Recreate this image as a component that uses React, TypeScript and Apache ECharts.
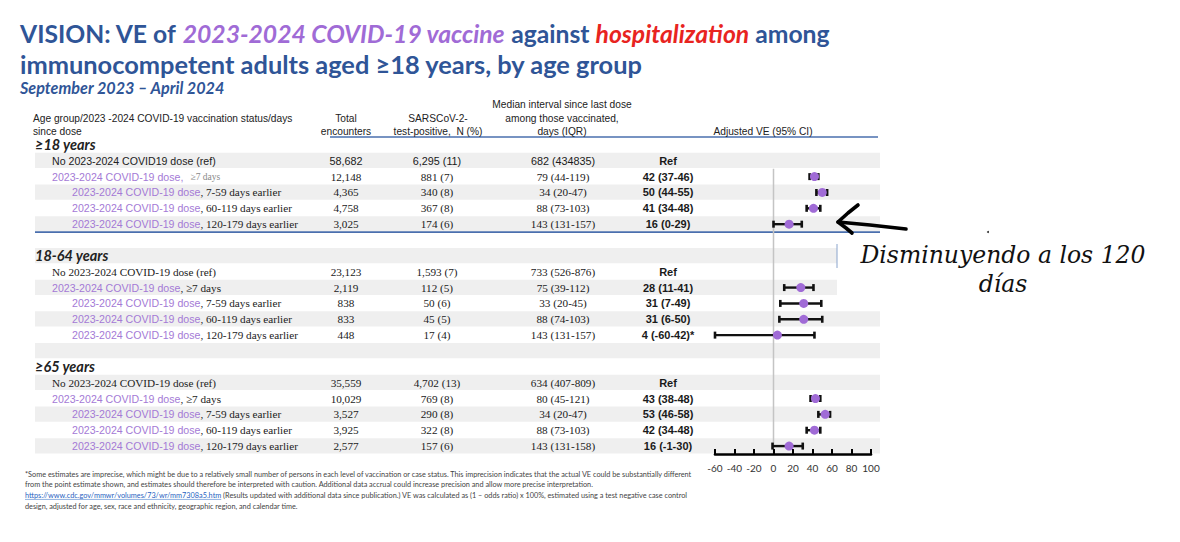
import React, { useEffect, useRef } from "react";
import * as echarts from "echarts";

// ---------- data ----------
const groupHeaders = ["≥18 years", "18-64 years", "≥65 years"];
const refLabels = [
  "No 2023-2024 COVID19 dose (ref)",
  "No 2023-2024 COVID-19 dose (ref)",
  "No 2023-2024 COVID-19 dose (ref)",
];
const doseName = "2023-2024 COVID-19 dose";
const doseSuffixes = ["≥7 days", "7-59 days earlier", "60-119 days earlier", "120-179 days earlier"];

const totalEncounters = [
  ["58,682", "12,148", "4,365", "4,758", "3,025"],
  ["23,123", "2,119", "838", "833", "448"],
  ["35,559", "10,029", "3,527", "3,925", "2,577"],
];
const testPositive = [
  ["6,295 (11)", "881 (7)", "340 (8)", "367 (8)", "174 (6)"],
  ["1,593 (7)", "112 (5)", "50 (6)", "45 (5)", "17 (4)"],
  ["4,702 (13)", "769 (8)", "290 (8)", "322 (8)", "157 (6)"],
];
const medianInterval = [
  ["682 (434835)", "79 (44-119)", "34 (20-47)", "88 (73-103)", "143 (131-157)"],
  ["733 (526-876)", "75 (39-112)", "33 (20-45)", "88 (74-103)", "143 (131-157)"],
  ["634 (407-809)", "80 (45-121)", "34 (20-47)", "88 (73-103)", "143 (131-158)"],
];
const veText = [
  ["Ref", "42 (37-46)", "50 (44-55)", "41 (34-48)", "16 (0-29)"],
  ["Ref", "28 (11-41)", "31 (7-49)", "31 (6-50)", "4 (-60-42)*"],
  ["Ref", "43 (38-48)", "53 (46-58)", "42 (34-48)", "16 (-1-30)"],
];
const veEst = [
  [42, 50, 41, 16],
  [28, 31, 31, 4],
  [43, 53, 42, 16],
];
const veLow = [
  [37, 44, 34, 0],
  [11, 7, 6, -60],
  [38, 46, 34, -1],
];
const veHigh = [
  [46, 55, 48, 29],
  [41, 49, 50, 42],
  [48, 58, 48, 30],
];

const footnoteLines = [
  "*Some estimates are imprecise, which might be due to a relatively small number of persons in each level of vaccination or case status. This imprecision indicates that the actual VE could be substantially different",
  "from the point estimate shown, and estimates should therefore be interpreted with caution. Additional data accrual could increase precision and allow more precise interpretation.",
  " (Results updated with additional data since publication.) VE was calculated as (1 – odds ratio) x 100%, estimated using a test negative case control",
  "design, adjusted for age, sex, race and ethnicity, geographic region, and calendar time.",
];
const footnoteLink = "https://www.cdc.gov/mmwr/volumes/73/wr/mm7308a5.htm";
const annotationText = "Disminuyendo a los 120\ndías";

// ---------- styling ----------
const SANS = '"Liberation Sans", Arial, sans-serif';
const SERIF = '"Liberation Serif", "Times New Roman", serif';
const LATO = 'Lato, "Open Sans", sans-serif';
const BLUE = "#2f5597";
const PURPLE = "#a06bd6";
const LABEL_PURPLE = "#a47ad6";
const RED = "#e8241f";
const STRIPE = "#efefef";

// table layout (pixel units along the hidden table axis)
const TABLE_LEFT = 35;
const TABLE_RIGHT = 880;
const COL_GROUP = 35;
const COL_L1 = 52;
const COL_L2 = 72;
const COL_TOTAL = 346;
const COL_POS = 437;
const COL_MED = 563;
const COL_VE = 668;

type RowMeta = { row: number; kind: "header" | "ref" | "dose" | "blank"; g: number; j: number };
const rowsMeta: RowMeta[] = [];
groupHeaders.forEach((_, g) => {
  const base = g * 7;
  rowsMeta.push({ row: base, kind: "header", g, j: -1 });
  rowsMeta.push({ row: base + 1, kind: "ref", g, j: 0 });
  doseSuffixes.forEach((__, k) => rowsMeta.push({ row: base + 2 + k, kind: "dose", g, j: k + 1 }));
  if (g < groupHeaders.length - 1) rowsMeta.push({ row: base + 6, kind: "blank", g, j: -1 });
});

const ciData: number[][] = [];
const pointData: number[][] = [];
veEst.forEach((arr, g) =>
  arr.forEach((v, k) => {
    const row = g * 7 + 2 + k;
    ciData.push([v, veLow[g][k], veHigh[g][k], row]);
    pointData.push([v, row]);
  })
);

function measure(text: string, font: string) {
  const c = document.createElement("canvas").getContext("2d");
  if (!c) return text.length * 3;
  c.font = font;
  return c.measureText(text).width;
}

export default function App() {
  const ref = useRef<HTMLDivElement>(null);
  useEffect(() => {
    if (!ref.current) return;
    const chart = echarts.init(ref.current, undefined, { renderer: "svg" });

    const renderTable = (params: any, api: any) => {
      const r = rowsMeta[params.dataIndex];
      const [xL, yc] = api.coord([TABLE_LEFT, r.row]);
      const [xR] = api.coord([TABLE_RIGHT, r.row]);
      const h = api.size([0, 1])[1];
      const X = (v: number) => api.coord([v, r.row])[0];
      const children: any[] = [];
      if (r.row % 2 === 1) {
        children.push({
          type: "rect",
          shape: { x: xL, y: yc - h / 2, width: xR - xL, height: h - 0.6 },
          style: { fill: STRIPE },
        });
      }
      if (r.row === 0) {
        children.push({
          type: "line",
          shape: { x1: X(330), y1: yc - h / 2, x2: X(878), y2: yc - h / 2 },
          style: { stroke: "#4a6fae", lineWidth: 1.6 },
        });
      }
      if (r.kind === "header") {
        children.push({
          type: "text",
          x: X(COL_GROUP),
          y: yc,
          style: {
            text: groupHeaders[r.g],
            fontFamily: LATO,
            fontSize: 14.5,
            fontWeight: "bold",
            fontStyle: "italic",
            fill: "#222",
            align: "left",
            verticalAlign: "middle",
          },
        });
      }
      if (r.kind === "ref" || r.kind === "dose") {
        const isSansRow = r.g === 0 && r.j === 0;
        const valFont = isSansRow ? SANS : SERIF;
        const valSize = isSansRow ? 10.8 : 11.2;
        let labelText = "";
        if (r.kind === "ref") {
          labelText = `{${isSansRow ? "k" : "s"}|${refLabels[r.g]}}`;
        } else if (r.j === 1 && r.g === 0) {
          labelText = `{p|${doseName},}{g|   ${doseSuffixes[0]}}`;
        } else {
          labelText = `{p|${doseName}}{s|, ${doseSuffixes[r.j - 1]}}`;
        }
        children.push({
          type: "text",
          x: X(r.kind === "ref" || r.j === 1 ? COL_L1 : COL_L2),
          y: yc,
          style: {
            text: labelText,
            align: "left",
            verticalAlign: "middle",
            rich: {
              k: { fontFamily: SANS, fontSize: 10.6, fill: "#222" },
              s: { fontFamily: SERIF, fontSize: 11.2, fill: "#222" },
              p: { fontFamily: SANS, fontSize: 10.6, fill: LABEL_PURPLE },
              g: { fontFamily: SERIF, fontSize: 9.5, fill: "#888" },
            },
          },
        });
        const cols: [number, string, string, number, string][] = [
          [COL_TOTAL, totalEncounters[r.g][r.j], valFont, valSize, "normal"],
          [COL_POS, testPositive[r.g][r.j], valFont, valSize, "normal"],
          [COL_MED, medianInterval[r.g][r.j], valFont, valSize, "normal"],
          [COL_VE, veText[r.g][r.j], SANS, 11, "bold"],
        ];
        cols.forEach(([cx, t, f, fs, fw]) =>
          children.push({
            type: "text",
            x: X(cx),
            y: yc,
            style: {
              text: t,
              fontFamily: f,
              fontSize: fs,
              fontWeight: fw,
              fill: "#1a1a1a",
              align: "center",
              verticalAlign: "middle",
            },
          })
        );
      }
      if (r.row === 5) {
        children.push({
          type: "line",
          shape: { x1: xL, y1: yc + h / 2, x2: xR, y2: yc + h / 2 },
          style: { stroke: "#4a6fae", lineWidth: 1.6 },
        });
      }
      return { type: "group", children };
    };

    const renderCI = (params: any, api: any) => {
      const lo = api.coord([api.value(1), api.value(3)]);
      const hi = api.coord([api.value(2), api.value(3)]);
      const cap = 3.5;
      const st = { stroke: "#111", lineWidth: 2.4 };
      return {
        type: "group",
        children: [
          { type: "line", shape: { x1: lo[0], y1: lo[1], x2: hi[0], y2: hi[1] }, style: st },
          { type: "line", shape: { x1: lo[0], y1: lo[1] - cap, x2: lo[0], y2: lo[1] + cap }, style: { stroke: "#111", lineWidth: 2.6 } },
          { type: "line", shape: { x1: hi[0], y1: hi[1] - cap, x2: hi[0], y2: hi[1] + cap }, style: { stroke: "#111", lineWidth: 2.6 } },
        ],
      };
    };

    const hdr = (x: number, y: number, text: string, align = "center") => ({
      type: "text",
      x,
      y,
      z: 100,
      style: { text, fontFamily: SANS, fontSize: 10.2, fill: "#222", align, verticalAlign: "middle" },
    });

    const footFont = `7.3px ${LATO}`;
    const linkW = measure(footnoteLink, footFont);

    const graphic: any[] = [
      {
        type: "text",
        x: 20,
        y: 33,
        z: 100,
        style: {
          text: "{b|VISION: VE of }{p|2023-2024 COVID-19 vaccine}{b| against }{r|hospitalization}{b| among}",
          verticalAlign: "middle",
          align: "left",
          rich: {
            b: { fontFamily: LATO, fontSize: 24.7, fontWeight: "bold", fill: BLUE },
            p: { fontFamily: LATO, fontSize: 24.7, fontWeight: "bold", fontStyle: "italic", fill: PURPLE },
            r: { fontFamily: LATO, fontSize: 24.7, fontWeight: "bold", fontStyle: "italic", fill: RED },
          },
        },
      },
      {
        type: "text",
        x: 20,
        y: 64,
        z: 100,
        style: {
          text: "immunocompetent adults aged ≥18 years, by age group",
          fontFamily: LATO,
          fontSize: 25.4,
          fontWeight: "bold",
          fill: BLUE,
          verticalAlign: "middle",
        },
      },
      {
        type: "text",
        x: 20,
        y: 87,
        z: 100,
        style: {
          text: "September 2023 – April 2024",
          fontFamily: LATO,
          fontSize: 16.2,
          fontWeight: "bold",
          fontStyle: "italic",
          fill: BLUE,
          verticalAlign: "middle",
        },
      },
      hdr(33, 118, "Age group/2023 -2024 COVID-19 vaccination status/days", "left"),
      hdr(33, 131, "since dose", "left"),
      hdr(COL_TOTAL, 118, "Total"),
      hdr(COL_TOTAL, 131, "encounters"),
      hdr(438, 118, "SARSCoV-2-"),
      hdr(438, 131, "test-positive,  N (%)"),
      hdr(562, 104, "Median interval since last dose"),
      hdr(562, 118, "among those vaccinated,"),
      hdr(562, 131, "days (IQR)"),
      hdr(763, 131, "Adjusted VE (95% CI)"),
      // annotation box
      { type: "rect", z: 100, shape: { x: 837, y: 238, width: 343, height: 62 }, style: { fill: "#fff" } },
      { type: "line", z: 101, shape: { x1: 837, y1: 244, x2: 837, y2: 268 }, style: { stroke: "#8aa4cc", lineWidth: 1 } },
      {
        type: "text",
        x: 1003,
        y: 269,
        z: 102,
        style: {
          text: annotationText,
          fontFamily: '"DejaVu Serif", serif',
          fontStyle: "italic",
          fontSize: 23.5,
          lineHeight: 29,
          fill: "#111",
          align: "center",
          verticalAlign: "middle",
        },
      },
      // arrow
      {
        type: "polyline",
        z: 103,
        shape: { points: [[838, 222], [870, 225], [906, 229]] },
        style: { stroke: "#000", lineWidth: 3.6, lineCap: "round", lineJoin: "round", fill: "none" },
      },
      {
        type: "polyline",
        z: 103,
        shape: { points: [[858, 205], [848, 213], [838, 222], [846, 228], [852, 233]] },
        style: { stroke: "#000", lineWidth: 3.6, lineCap: "round", lineJoin: "round", fill: "none" },
      },
      { type: "circle", z: 103, shape: { cx: 988, cy: 232, r: 1 }, style: { fill: "#333" } },
      // footnotes
      ...footnoteLines.map((t, i) => ({
        type: "text",
        x: i === 2 ? 25 + linkW : 25,
        y: 474 + i * 10.8,
        z: 100,
        style: { text: t, font: footFont, fill: "#444", verticalAlign: "middle" },
      })),
      {
        type: "text",
        x: 25,
        y: 474 + 2 * 10.8,
        z: 100,
        style: { text: footnoteLink, font: footFont, fill: "#1f5fbf", verticalAlign: "middle" },
      },
      {
        type: "line",
        z: 100,
        shape: { x1: 25, y1: 474 + 2 * 10.8 + 3.8, x2: 25 + linkW, y2: 474 + 2 * 10.8 + 3.8 },
        style: { stroke: "#1f5fbf", lineWidth: 0.5 },
      },
    ];

    const option: any = {
      animation: false,
      backgroundColor: "#fff",
      grid: [
        { left: 715, top: 137, width: 156, height: 317, outerBoundsMode: "none" },
        { left: 0, top: 137, width: 1180, height: 317, outerBoundsMode: "none" },
      ],
      xAxis: [
        {
          type: "value",
          gridIndex: 0,
          position: "bottom",
          z: 20,
          min: -60,
          max: 100,
          interval: 20,
          axisLine: { show: true, onZero: false, lineStyle: { color: "#000", width: 2.6 } },
          axisTick: { show: true, inside: true, length: 5, lineStyle: { color: "#000", width: 2 } },
          axisLabel: { color: "#333", fontSize: 10, fontFamily: LATO, margin: 9 },
          splitLine: { show: false },
        },
        { type: "value", gridIndex: 1, min: 0, max: 1180, show: false },
      ],
      yAxis: [
        { type: "value", gridIndex: 0, min: -0.5, max: 19.5, inverse: true, show: false },
        { type: "value", gridIndex: 1, min: -0.5, max: 19.5, inverse: true, show: false },
      ],
      series: [
        {
          type: "custom",
          xAxisIndex: 1,
          yAxisIndex: 1,
          z: 1,
          renderItem: renderTable,
          data: rowsMeta.map((r) => [TABLE_LEFT, r.row]),
          silent: true,
        },
        {
          type: "line",
          xAxisIndex: 0,
          yAxisIndex: 0,
          z: 2,
          data: [
            [0, 1.5],
            [0, 19.5],
          ],
          symbol: "none",
          lineStyle: { color: "#c4c4c4", width: 1.5 },
          silent: true,
        },
        {
          type: "custom",
          xAxisIndex: 0,
          yAxisIndex: 0,
          z: 3,
          renderItem: renderCI,
          data: ciData,
          silent: true,
        },
        {
          type: "scatter",
          xAxisIndex: 0,
          yAxisIndex: 0,
          z: 4,
          data: pointData,
          symbol: "circle",
          symbolSize: 9,
          itemStyle: { color: PURPLE, opacity: 1 },
          silent: true,
        },
      ],
      graphic,
    };
    chart.setOption(option);
    return () => chart.dispose();
  }, []);
  return <div ref={ref} style={{ position: "absolute", left: 0, top: 0, width: 1180, height: 542 }} />;
}
